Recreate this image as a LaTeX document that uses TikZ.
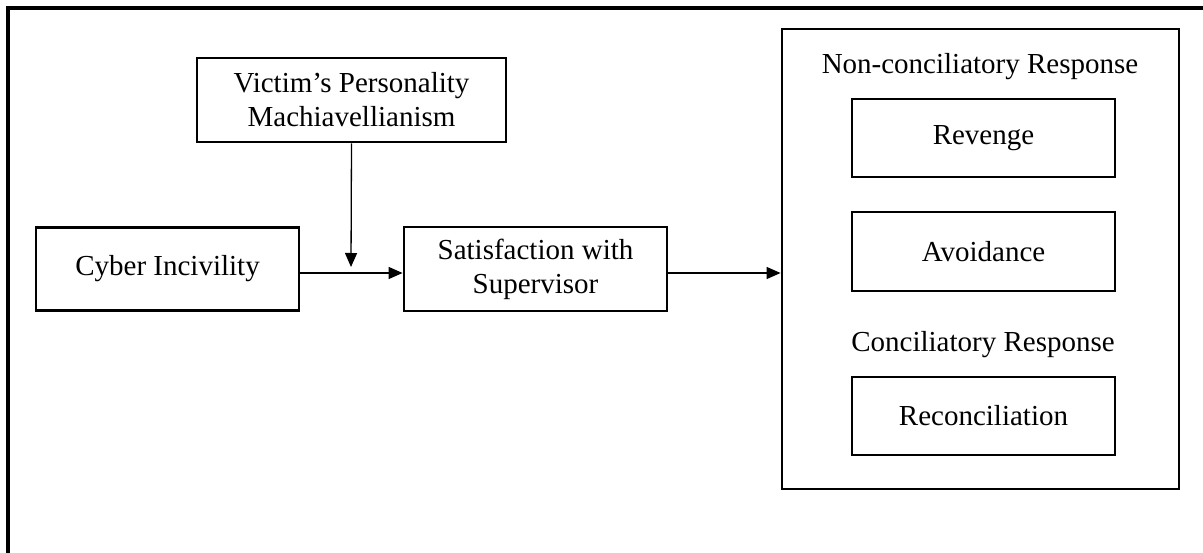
\documentclass[tikz,border=0pt]{standalone}
\usepackage{fontspec}
\setmainfont{Liberation Serif}
\usetikzlibrary{arrows.meta}
\begin{document}
\begin{tikzpicture}[x=1pt,y=-1pt,
  box/.style={draw,line width=2.8pt,rectangle,align=center,inner sep=0pt,
    font=\fontsize{29}{34}\selectfont},
  frame/.style={draw,line width=2.8pt},
  lbl/.style={align=center,inner sep=0pt,font=\fontsize{29}{34}\selectfont},
  conn/.style={line width=1.3pt,-{Triangle[length=14pt,width=12pt]}}]
\useasboundingbox (0,0) rectangle (1203,553);
\draw[line width=3.5pt] (1203,8) -- (8,8) -- (8,553);
\node[box,minimum width=309pt,minimum height=84pt] (victim) at (351.5,100) {Victim’s Personality\\Machiavellianism};
\node[box,minimum width=263pt,minimum height=83pt] (cyber) at (167.5,269) {Cyber Incivility};
\node[box,minimum width=263pt,minimum height=84pt] (sat) at (535.5,269) {Satisfaction with\\Supervisor};
\node[frame,minimum width=397pt,minimum height=460pt] (big) at (980.5,259) {};
\node[lbl] (noncon) at (980,67) {Non-conciliatory Response};
\node[box,minimum width=263pt,minimum height=78pt] (revenge) at (983.5,138) {Revenge};
\node[box,minimum width=263pt,minimum height=79pt] (avoid) at (983.5,251.5) {Avoidance};
\node[lbl] (con) at (983,345) {Conciliatory Response};
\node[box,minimum width=263pt,minimum height=78pt] (recon) at (983.5,416) {Reconciliation};
\coordinate (mod) at (351,267);
\coordinate (cyout) at ([yshift=-4pt]cyber.east);
\coordinate (satin) at ([yshift=-4pt]sat.west);
\coordinate (satout) at ([yshift=-4pt]sat.east);
\draw[conn] (cyout) -- (satin);
\draw[conn] (victim.south) -- (mod);
\draw[conn] (satout) -- (big.west |- satout);
\end{tikzpicture}
\end{document}
